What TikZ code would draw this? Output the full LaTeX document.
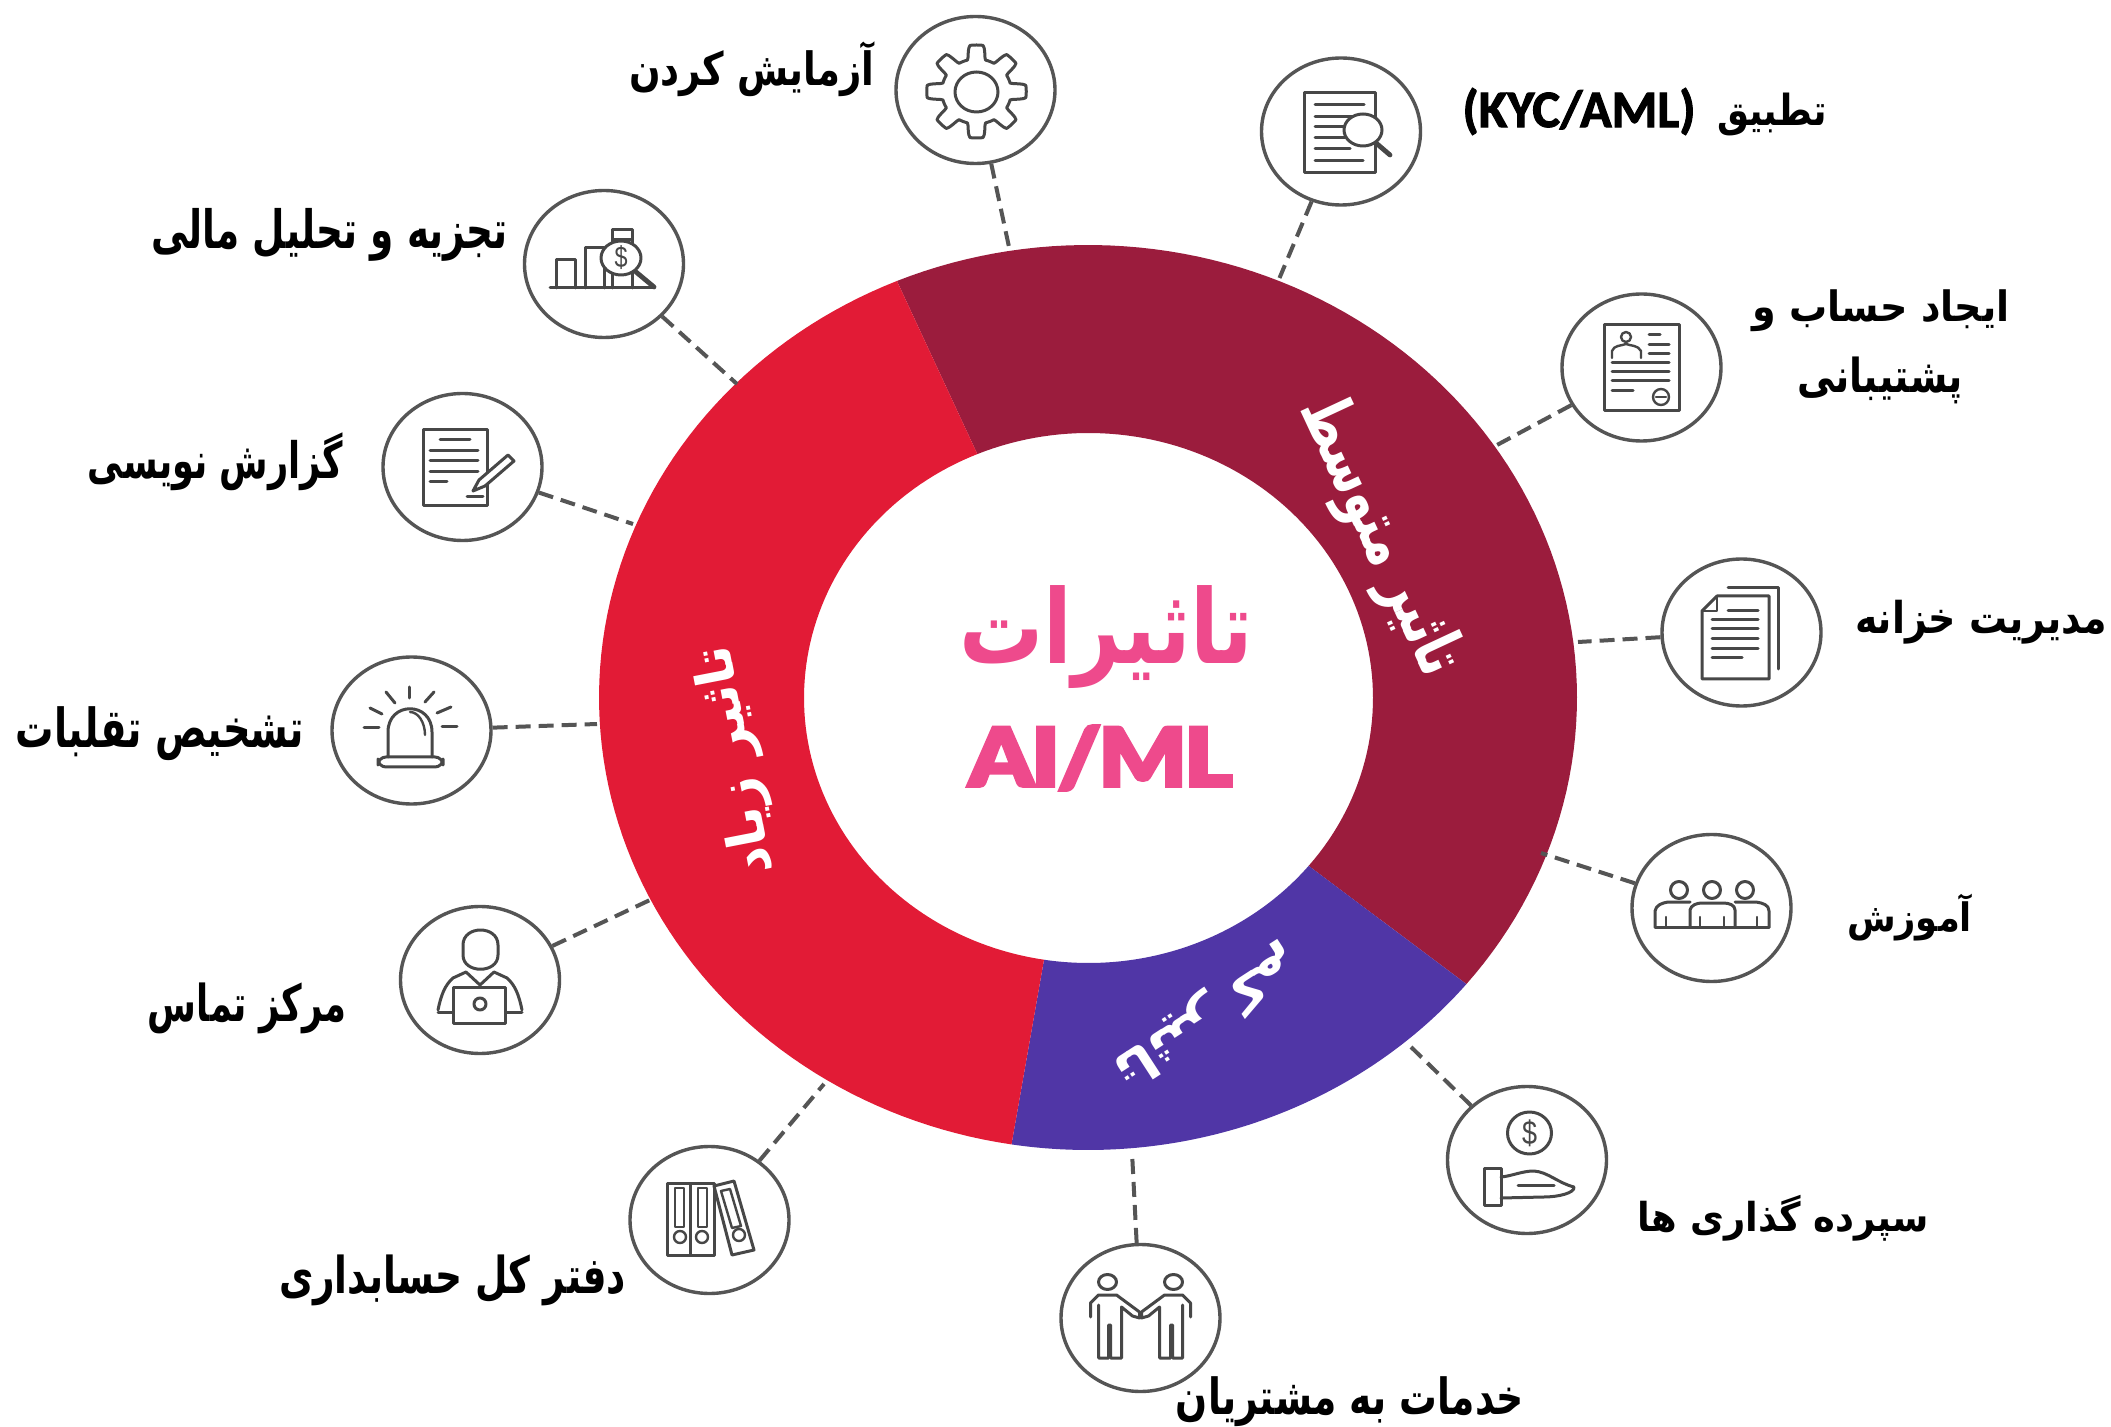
\documentclass[tikz,border=0pt]{standalone}
\usepackage{fontspec}
\usepackage{graphicx}
\usetikzlibrary{shapes.geometric}
\TeXXeTstate=1
\newfontfamily\arbold[Script=Arabic]{DejaVu Sans Bold}
\newfontfamily\kyc[FakeBold=2]{Carlito Bold}
\newfontfamily\heavy[FakeBold=3.5,LetterSpace=-3]{Lato Black}
\newfontfamily\dollarfont{Liberation Sans}
\newlength\pxu \setlength\pxu{0.5pt}
\newcommand\fitt[3]{\resizebox*{#1\pxu}{#2\pxu}{#3}}
\newcommand\arb[1]{{\arbold\beginR #1\endR}}
\definecolor{ringred}{HTML}{E21B36}
\definecolor{ringmaroon}{HTML}{9B1C3D}
\definecolor{ringpurple}{HTML}{5036A6}
\definecolor{hubpink}{HTML}{EE4A8C}
\definecolor{linegray}{HTML}{555555}
\tikzset{
  iconcircle/.style={shape=ellipse,draw=linegray,line width=1.7pt,minimum width=79.5pt,minimum height=73.5pt,inner sep=0pt,fill=white},
  dashlink/.style={draw=linegray,line width=2pt,dash pattern=on 7.5pt off 4pt},
  icon/.style={draw=black!72,line width=1.5pt,line join=round,line cap=round},
  thinicon/.style={draw=black!72,line width=1.2pt,line join=round,line cap=round},
  lab/.style={inner sep=0pt,text=black},
  ringlab/.style={inner sep=0pt,text=white},
  dollar/.style={inner sep=0pt,text=black!72,font=\dollarfont}
}
\newcommand\seg[3]{\fill[#1] plot[domain=#2:#3,samples=90] ({1088+489*cos(\x)},{697.5-452.5*sin(\x)}) -- plot[domain=#3:#2,samples=90] ({1088.5+284.5*cos(\x)},{698-265*sin(\x)}) -- cycle;}
\begin{document}
\begin{tikzpicture}[x=0.5pt,y=-0.5pt]
\fill[white] (0,0) rectangle (2111,1427);
\useasboundingbox (0,0) rectangle (2111,1427);
% ring
\seg{ringmaroon}{-39.3}{113}
\seg{ringpurple}{-99}{-39.3}
\seg{ringred}{113}{261}
% ring ends of connectors
\coordinate (r1) at (1009,247);
\coordinate (r2) at (1279.5,278);
\coordinate (r3) at (1497,445);
\coordinate (r4) at (1578,642);
\coordinate (r5) at (1541,853);
\coordinate (r6) at (1411,1047);
\coordinate (r7) at (1132,1152);
\coordinate (r8) at (824,1084);
\coordinate (r9) at (650,900);
\coordinate (r10) at (597,724);
\coordinate (r11) at (633,524);
\coordinate (r12) at (737,384);
% icon circles
\node[iconcircle] (c1) at (975.5,90) {};
\node[iconcircle] (c2) at (1341,131.5) {};
\node[iconcircle] (c3) at (1641.5,367.5) {};
\node[iconcircle] (c4) at (1741.5,632.5) {};
\node[iconcircle] (c5) at (1711.5,908) {};
\node[iconcircle] (c6) at (1527,1160) {};
\node[iconcircle] (c7) at (1140.5,1318) {};
\node[iconcircle] (c8) at (709.5,1220) {};
\node[iconcircle] (c9) at (480,980) {};
\node[iconcircle] (c10) at (411.5,730.5) {};
\node[iconcircle] (c11) at (462.5,467) {};
\node[iconcircle] (c12) at (604,264) {};
\foreach \i in {1,...,12} {\draw[dashlink] (c\i) -- (r\i);}
% 1 gear
\draw[icon] plot[smooth,domain=0:360,samples=193] ({976.5+1.07*(39.5+7*max(-1,min(1,2.5*cos(8*\x))))*cos(\x)},{91.5-(39.5+7*max(-1,min(1,2.5*cos(8*\x))))*sin(\x)}) -- cycle;
\draw[icon] (976.5,92) circle[x radius=21.5,y radius=20];
% 2 KYC document
\draw[icon] (1304,93) rectangle (1375,173);
\foreach \y/\e in {105/1364,117/1352,127/1345,138/1345,149/1350,161/1363} {\draw[icon] (1315,\y) -- (\e,\y);}
\draw[icon,fill=white] (1363,130) circle[x radius=19,y radius=16];
\draw[icon,line width=2.4pt] (1376,143) -- (1390,155);
% 3 account form
\draw[icon] (1604,325) rectangle (1679,411);
\draw[thinicon] (1626,337) circle[radius=5];
\draw[thinicon] (1612,358) -- (1612,351) .. controls (1614,345) and (1621,346) .. (1626,344) .. controls (1631,346) and (1638,345) .. (1641,351) -- (1641,358);
\foreach \a/\b/\y in {1649/1660/335,1649/1669/345,1649/1669/354,1612/1669/363,1612/1669/372,1612/1669/381,1612/1633/391} {\draw[icon] (\a,\y) -- (\b,\y);}
\draw[thinicon] (1661,397) circle[radius=8];
\draw[thinicon] (1656,397) -- (1666,397);
% 4 treasury documents
\draw[icon] (1717,596) -- (1769,596) -- (1769,679) -- (1702,679) -- (1702,611) -- cycle;
\draw[thinicon] (1702,611) -- (1717,611) -- (1717,596);
\draw[icon] (1728,588) -- (1778,588) -- (1778,669);
\foreach \a/\y in {1728/611,1712/620,1712/629,1712/639,1712/649} {\draw[icon] (\a,\y) -- (1758,\y);}
\draw[icon] (1712,658) -- (1742,658);
% 5 training people
\foreach \x in {1679,1712,1745} {\draw[icon] (\x,890) circle[radius=8.5];}
\draw[icon] (1655,927) -- (1769,927);
\draw[icon] (1655,927) -- (1655,911) .. controls (1656,905) and (1662,903) .. (1668,902) -- (1690,902);
\draw[icon] (1690,927) -- (1690,910) .. controls (1691,905) and (1697,903) .. (1702,903) -- (1723,903) .. controls (1729,903) and (1735,905) .. (1735,910) -- (1735,927);
\draw[icon] (1735,902) -- (1756,902) .. controls (1763,903) and (1769,905) .. (1769,911) -- (1769,927);
\foreach \x in {1666,1700,1724,1757} {\draw[thinicon] (\x,917) -- (\x,927);}
% 6 deposit hand and coin
\draw[icon] (1529.5,1133) circle[x radius=22,y radius=21];
\node[dollar] (d6) at (1529.5,1133) {\fitt{15}{27}{\$}};
\draw[icon] (1484,1168) rectangle (1501,1205);
\draw[icon] (1501,1177) .. controls (1512,1176) and (1522,1171) .. (1534,1171) .. controls (1548,1172) and (1558,1183) .. (1574,1187) .. controls (1575,1193) and (1558,1197) .. (1544,1197) -- (1501,1198);
\draw[icon] (1518,1185) -- (1554,1185);
% 7 handshake people
\foreach \s in {1,-1} {
\begin{scope}[shift={(1140.5,0)},xscale=\s]
\draw[icon] (-33,1282) circle[x radius=9,y radius=7.5];
\draw[icon] (-50,1317) -- (-50,1303) -- (-42,1295) -- (-24,1295) -- (-1,1312) -- (-1,1318) -- (-8,1316) -- (-19,1307) -- (-19,1358) -- (-30,1358) -- (-30,1325) -- (-32,1325) -- (-32,1358) -- (-42,1358) -- (-42,1305);
\end{scope}}
% 8 ledger binders
\draw[icon] (667,1183) rectangle (690,1255);
\draw[icon] (690,1183) rectangle (714,1255);
\draw[icon] (714,1186) -- (734,1181) -- (754,1250) -- (732,1255) -- cycle;
\draw[thinicon] (675,1188) rectangle (684,1227);
\draw[thinicon] (698,1188) rectangle (707,1227);
\draw[thinicon] (721,1191) -- (730,1189) -- (741,1226) -- (732,1228) -- cycle;
\foreach \x/\y in {680/1237,702/1237,739/1235} {\draw[thinicon] (\x,\y) circle[radius=6];}
% 9 contact person with laptop
\draw[icon] (463,945) .. controls (463,925) and (498,925) .. (498,945) -- (498,955) .. controls (498,974) and (463,974) .. (463,955) -- cycle;
\draw[icon] (438,1010) .. controls (441,995) and (445,985) .. (453,978) -- (466,972) -- (480,985) -- (494,972) -- (507,978) .. controls (515,985) and (519,995) .. (522,1010);
\draw[icon] (438,1012) -- (453,1012);
\draw[icon] (505,1012) -- (522,1012);
\draw[icon,fill=white] (453,987) rectangle (505,1023);
\draw[icon] (480,1004) circle[radius=6];
% 10 alarm
\draw[icon,rounded corners=4pt] (378,757) rectangle (443,767);
\draw[icon] (388,757) -- (388,732) .. controls (388,701) and (432,701) .. (432,732) -- (432,757);
\draw[thinicon] (410,712) .. controls (418,712) and (425,722) .. (425,735);
\foreach \a/\b/\c/\d in {409/687/409/698,386/692/395/703,370/708/382/714,364/728/379/728,425/702/434/692,437/713/451/707,442/727/457/727} {\draw[icon] (\a,\b) -- (\c,\d);}
% 11 reports document and pencil
\draw[icon] (423,430) rectangle (487,506);
\foreach \a/\b/\y in {440/470/440,430/478/451,430/478/461,430/478/472,430/447/482,467/483/497} {\draw[icon] (\a,\y) -- (\b,\y);}
\draw[icon,fill=white] (473,491) -- (479,480) -- (508,455) -- (514,461) -- (485,486) -- cycle;
% 12 analysis chart
\draw[icon] (550,288) -- (654,288);
\draw[icon] (556,288) -- (556,260) -- (575,260) -- (575,288);
\draw[icon] (585,288) -- (585,248) -- (604,248) -- (604,288);
\draw[icon] (612,288) -- (612,238);
\draw[icon] (632,288) -- (632,238);
\draw[icon] (612,230) rectangle (632,240);
\draw[icon,fill=white] (621,258) circle[x radius=20,y radius=17];
\node[dollar] (d12) at (621,258) {\fitt{13}{24}{\$}};
\draw[icon,line width=2.4pt] (636,272) -- (654,287);
% outer labels
\node[lab] (t1) at (751.5,69) {\fitt{245}{55}{\arb{آزمایش کردن}}};
\node[lab] (t2a) at (1772,115) {\fitt{110}{43}{\arb{تطبیق}}};
\node[lab] (t2b) at (1579,111.5) {\fitt{233}{47}{{\kyc (KYC/AML)}}};
\node[lab] (t3a) at (1881,311) {\fitt{257}{42}{\arb{ایجاد حساب و}}};
\node[lab] (t3b) at (1880,380) {\fitt{166}{47}{\arb{پشتیبانی}}};
\node[lab] (t4) at (1981,622) {\fitt{252}{44}{\arb{مدیریت خزانه}}};
\node[lab] (t5) at (1909.5,918) {\fitt{125}{47}{\arb{آموزش}}};
\node[lab] (t6) at (1783.5,1218) {\fitt{291}{46}{\arb{سپرده گذاری ها}}};
\node[lab] (t7) at (1350,1402) {\fitt{348}{50}{\arb{خدمات به مشتریان}}};
\node[lab] (t8) at (452.5,1280) {\fitt{347}{51}{\arb{دفتر کل حسابداری}}};
\node[lab] (t9) at (247,1008) {\fitt{198}{51}{\arb{مرکز تماس}}};
\node[lab] (t10) at (160,734) {\fitt{288}{54}{\arb{تشخیص تقلبات}}};
\node[lab] (t11) at (215.5,462) {\fitt{255}{58}{\arb{گزارش نویسی}}};
\node[lab] (t12) at (329.5,235) {\fitt{357}{53}{\arb{تجزیه و تحلیل مالی}}};
% ring labels
\node[ringlab,rotate=101] (rl1) at (737,760) {\fitt{232}{54}{\arb{تاثیر زیاد}}};
\node[ringlab,rotate=-65] (rl2) at (1379,537) {\fitt{300}{68}{\arb{تاثیر متوسط}}};
\node[ringlab,rotate=-147] (rl3) at (1206,1016) {\fitt{212}{50}{\arb{تاثیر کم}}};
% hub
\node[inner sep=0pt,text=hubpink] (hub1) at (1106.5,637.5) {\fitt{294}{103}{\arb{تاثیرات}}};
\node[inner sep=0pt,text=hubpink] (hub2) at (1100.5,758) {\fitt{264}{65}{{\heavy AI/ML}}};
\end{tikzpicture}
\end{document}
